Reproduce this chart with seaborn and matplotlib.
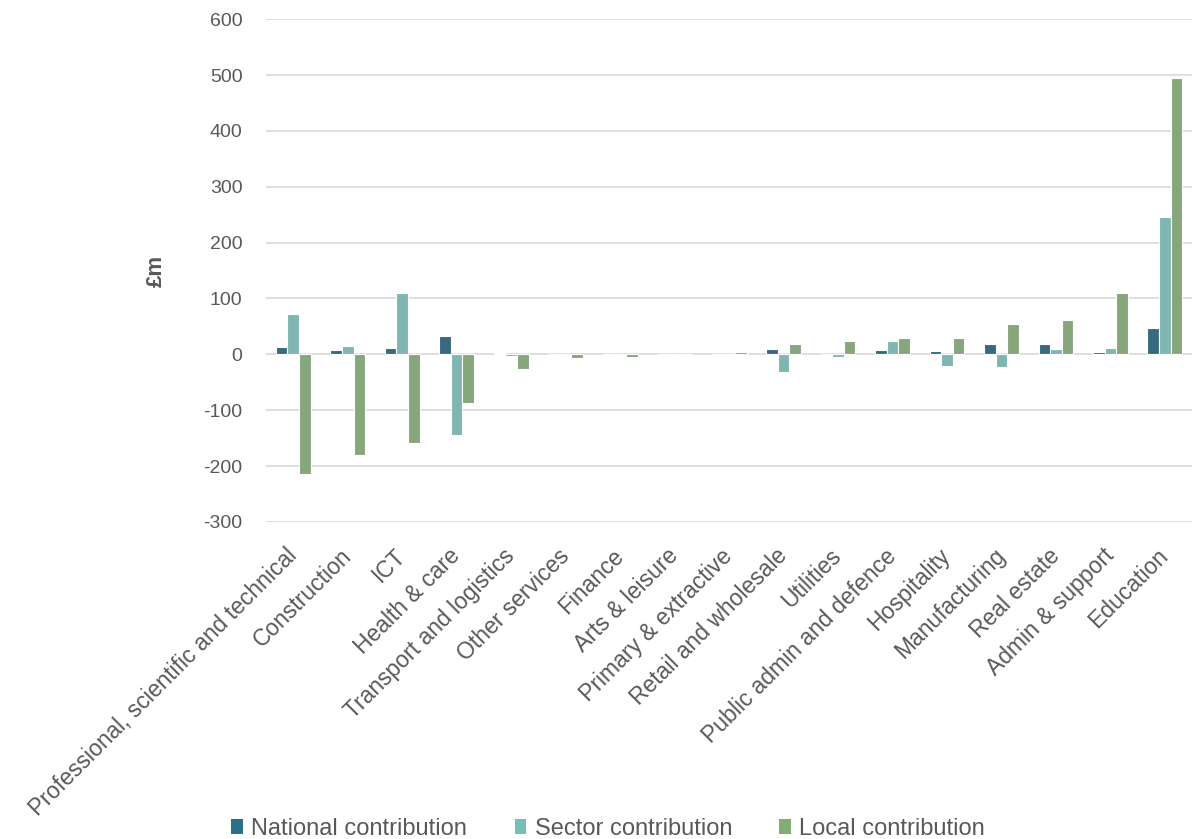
import matplotlib
matplotlib.use("Agg")
import matplotlib.pyplot as plt
import seaborn as sns
import pandas as pd
from matplotlib.patches import Patch

categories = [
    "Professional, scientific and technical", "Construction", "ICT", "Health & care",
    "Transport and logistics", "Other services", "Finance", "Arts & leisure",
    "Primary & extractive", "Retail and wholesale", "Utilities",
    "Public admin and defence", "Hospitality", "Manufacturing", "Real estate",
    "Admin & support", "Education",
]
national = [14, 7, 11, 33, 2, 1, -1, 0, 0, 9, 1, 7, 6, 18, 18, 4, 48]
sector = [73, 15, 110, -145, -3, 0, -1, 1, 0, -32, -4, 23, -21, -23, 9, 11, 246]
local = [-214, -181, -159, -88, -26, -7, -4, 0, 5, 19, 23, 29, 30, 54, 61, 109, 494]

series_names = ["National contribution", "Sector contribution", "Local contribution"]
palette = ["#2D6E8A", "#76BFB8", "#82AD75"]

df = pd.DataFrame({
    "category": categories * 3,
    "series": [series_names[0]] * len(categories) + [series_names[1]] * len(categories)
              + [series_names[2]] * len(categories),
    "value": national + sector + local,
})

sns.set_theme(style="white")
plt.rcParams["font.family"] = ["Liberation Sans", "DejaVu Sans"]
plt.rcParams["axes.unicode_minus"] = False

fig = plt.figure(figsize=(11.95, 8.39), dpi=100)
ax = fig.add_axes([0.2226, 0.378, 0.775, 0.599])

sns.barplot(data=df, x="category", y="value", hue="series", order=categories,
            hue_order=series_names, palette=palette, width=0.64,
            edgecolor="white", linewidth=0.8, ax=ax, legend=False, zorder=3)

ax.set_ylim(-300, 600)
ax.set_yticks(range(-300, 601, 100))
ax.set_xlim(-0.5, len(categories) - 0.5)
ax.grid(axis="y", color="#D9D9D9", linewidth=1.2, zorder=0)
ax.set_axisbelow(True)
for s in ax.spines.values():
    s.set_visible(False)

ax.tick_params(axis="both", length=0, colors="#595959")
ax.tick_params(axis="y", pad=17, labelsize=14)
ax.tick_params(axis="x", pad=22, labelsize=16.5)
ax.set_xticks(range(len(categories)))
ax.set_xticklabels(categories, rotation=45, ha="right", va="center",
                   rotation_mode="anchor")
for lbl in ax.get_xticklabels():
    lbl.set_color("#595959")
ax.set_xlabel("")
ax.set_ylabel("£m", fontsize=16, fontweight="bold", color="#595959", labelpad=26)

handles = [Patch(facecolor=c, edgecolor="none") for c in palette]
fig.legend(handles, series_names, loc="center", bbox_to_anchor=(0.509, 0.012),
           ncol=3, frameon=False, fontsize=17, handlelength=0.5, handleheight=0.55,
           handletextpad=0.35, columnspacing=2.0, labelcolor="#595959")

fig.savefig("out.png", dpi=100)
